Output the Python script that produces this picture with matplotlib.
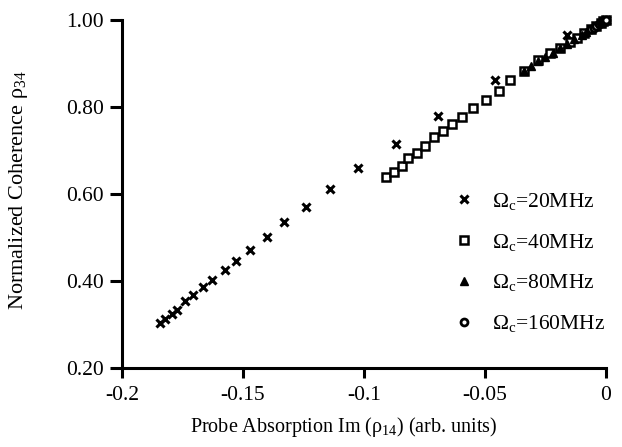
import matplotlib
matplotlib.use("Agg")
import matplotlib.pyplot as plt

plt.rcParams["font.family"] = "Liberation Serif"
plt.rcParams["mathtext.fontset"] = "custom"
plt.rcParams["mathtext.rm"] = "Liberation Serif"
plt.rcParams["mathtext.it"] = "Liberation Serif:italic"

# dados
x_20 = [-0.1843, -0.1822, -0.1795, -0.1774, -0.1740, -0.1705, -0.1664, -0.1629,
        -0.1574, -0.1530, -0.1471, -0.1402, -0.1330, -0.1241, -0.1138, -0.1026,
        -0.0869, -0.0693, -0.0459, -0.0162, 0.0]
y_20 = [0.303, 0.312, 0.324, 0.333, 0.355, 0.368, 0.386, 0.402,
        0.425, 0.446, 0.471, 0.502, 0.536, 0.569, 0.611, 0.659,
        0.715, 0.780, 0.862, 0.965, 1.0]

x_40 = [-0.0909, -0.0875, -0.0844, -0.0817, -0.0782, -0.0748, -0.0710, -0.0672,
        -0.0635, -0.0594, -0.0551, -0.0496, -0.0442, -0.0394, -0.0339, -0.0280,
        -0.0230, -0.0190, -0.0150, -0.0120, -0.0090, -0.0060, -0.0040, -0.0020,
        -0.0010, 0.0]
y_40 = [0.638, 0.651, 0.665, 0.682, 0.695, 0.710, 0.730, 0.745,
        0.761, 0.778, 0.797, 0.816, 0.837, 0.862, 0.883, 0.908,
        0.924, 0.937, 0.950, 0.960, 0.970, 0.980, 0.986, 0.993,
        0.997, 1.0]

x_80 = [-0.034, -0.031, -0.028, -0.025, -0.022, -0.019, -0.016, -0.013,
        -0.010, -0.008, -0.006, -0.004, -0.002, -0.001, 0.0]
y_80 = [0.884, 0.895, 0.905, 0.915, 0.925, 0.935, 0.946, 0.956,
        0.966, 0.973, 0.980, 0.986, 0.993, 0.997, 1.0]

x_160 = [-0.006, -0.005, -0.004, -0.003, -0.002, -0.0015, -0.001, -0.0005, 0.0]
y_160 = [0.980, 0.983, 0.986, 0.990, 0.993, 0.995, 0.997, 0.998, 1.0]

x_ticks = [-0.2, -0.15, -0.1, -0.05, 0.0]
x_ticklabels = ["-0.2", "-0.15", "-0.1", "-0.05", "0"]
y_ticks = [0.2, 0.4, 0.6, 0.8, 1.0]
y_ticklabels = ["0.20", "0.40", "0.60", "0.80", "1.00"]

fig = plt.figure(figsize=(6.22, 4.47), dpi=100)
ax = fig.add_axes([0.196, 0.177, 0.778, 0.778])

ax.plot(x_20, y_20, "x", color="black", ms=6, mew=2.2, clip_on=False,
        label=r"$\Omega_{\mathrm{c}}$=20MHz")
ax.plot(x_40, y_40, "s", color="black", mfc="white", ms=5.5, mew=1.8, clip_on=False,
        label=r"$\Omega_{\mathrm{c}}$=40MHz")
ax.plot(x_80, y_80, "^", color="black", ms=6, mew=1, clip_on=False,
        label=r"$\Omega_{\mathrm{c}}$=80MHz")
ax.plot(x_160, y_160, "o", color="black", mfc="white", ms=5, mew=2, clip_on=False,
        label=r"$\Omega_{\mathrm{c}}$=160MHz")

ax.set_xlim(-0.2, 0)
ax.set_ylim(0.2, 1.0)
ax.set_xticks(x_ticks)
ax.set_xticklabels(x_ticklabels)
ax.set_yticks(y_ticks)
ax.set_yticklabels(y_ticklabels)

for lado in ["top", "right"]:
    ax.spines[lado].set_visible(False)
for lado in ["left", "bottom"]:
    ax.spines[lado].set_linewidth(2.2)

ax.tick_params(axis="y", direction="out", length=9, width=2.2, labelsize=15.5, pad=4)
ax.tick_params(axis="x", direction="out", length=7, width=2.2, labelsize=15.5, pad=6)

ax.set_xlabel("Probe Absorption Im (ρ$_{14}$) (arb. units)", fontsize=14.5)
ax.set_ylabel("Normalized Coherence ρ$_{34}$", fontsize=16)
ax.xaxis.set_label_coords(0.459, -0.135)
ax.yaxis.set_label_coords(-0.19, 0.511)

ax.legend(loc="upper left", bbox_to_anchor=(0.663, 0.54), frameon=False,
          fontsize=15.5, handlelength=1.0, handletextpad=0.8, labelspacing=0.92,
          borderpad=0)

fig.savefig("out.png", dpi=100)
